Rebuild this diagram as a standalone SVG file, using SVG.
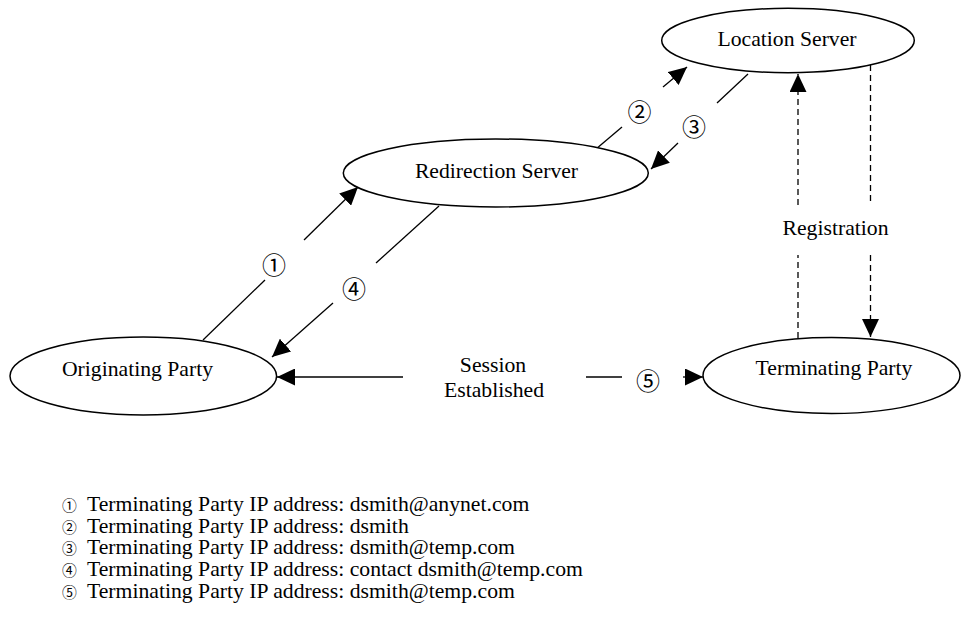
<svg xmlns="http://www.w3.org/2000/svg" width="961" height="618" viewBox="0 0 961 618">
<defs>
<style>
.node ellipse{fill:#fff;stroke:#000;stroke-width:1.5}
.t{font-family:"Liberation Serif","Times New Roman",serif;font-size:21.7px;fill:#000}
.c{text-anchor:middle}
.n{font-family:"Noto Sans CJK JP","DejaVu Sans",sans-serif;font-size:24px;fill:#000;text-anchor:middle}
.nl{font-family:"Noto Sans CJK JP","DejaVu Sans",sans-serif;font-size:14.8px}
.edges line{stroke:#000;stroke-width:1.3;fill:none}
.edges line.d{stroke-dasharray:6 4}
</style>
<marker id="ah" markerUnits="userSpaceOnUse" viewBox="0 0 18 17" markerWidth="18" markerHeight="17" refX="18" refY="8.5" orient="auto">
<path d="M0,0 L18,8.5 L0,17 z" fill="#000"/>
</marker>
</defs>
<rect width="961" height="618" fill="#fff"/>

<g class="edges" id="connectors">
<!-- 1: Originating -> Redirection -->
<line x1="203" y1="340" x2="265" y2="280"/>
<line x1="304" y1="240" x2="358" y2="187" marker-end="url(#ah)"/>
<!-- 4: Redirection -> Originating -->
<line x1="439" y1="206" x2="376" y2="263"/>
<line x1="333" y1="303" x2="272" y2="357" marker-end="url(#ah)"/>
<!-- 2: Redirection -> Location -->
<line x1="596" y1="149" x2="622" y2="127"/>
<line x1="663" y1="87" x2="687" y2="67" marker-end="url(#ah)"/>
<!-- 3: Location -> Redirection -->
<line x1="748" y1="74" x2="717" y2="103"/>
<line x1="678" y1="143" x2="651" y2="169" marker-end="url(#ah)"/>
<!-- Registration up -->
<line class="d" x1="798" y1="338" x2="798" y2="255"/>
<line class="d" x1="798" y1="205" x2="798" y2="74" marker-end="url(#ah)"/>
<!-- Registration down -->
<line class="d" x1="870.5" y1="65" x2="870.5" y2="205"/>
<line class="d" x1="870.5" y1="255" x2="870.5" y2="337" marker-end="url(#ah)"/>
<!-- Session established -->
<line x1="403" y1="377" x2="277" y2="377" marker-end="url(#ah)"/>
<line x1="586" y1="377" x2="622" y2="377"/>
<line x1="683" y1="377" x2="703" y2="377" marker-end="url(#ah)"/>
<!-- labels -->
<text class="n" x="274" y="273.5">①</text>
<text class="n" x="354" y="297.5">④</text>
<text class="n" x="639.5" y="121">②</text>
<text class="n" x="694" y="135.5">③</text>
<text class="n" x="648" y="390">⑤</text>
<text class="t c" x="835.5" y="235">Registration</text>
<text class="t c" x="493" y="372">Session</text>
<text class="t c" x="494" y="397">Established</text>
</g>

<g class="node" id="location-server">
<ellipse cx="788" cy="40.5" rx="126.3" ry="32.2"/>
<text class="t c" x="787" y="46">Location Server</text>
</g>
<g class="node" id="redirection-server">
<ellipse cx="495.8" cy="173" rx="152.5" ry="34"/>
<text class="t c" x="496.5" y="178">Redirection Server</text>
</g>
<g class="node" id="originating-party">
<ellipse cx="143.3" cy="376" rx="133.3" ry="39"/>
<text class="t c" x="137.5" y="376">Originating Party</text>
</g>
<g class="node" id="terminating-party">
<ellipse cx="831.5" cy="375.5" rx="128.5" ry="38"/>
<text class="t c" x="834" y="375">Terminating Party</text>
</g>

<g id="legend">
<text class="t" y="511"><tspan class="nl" x="62">①</tspan><tspan x="87">Terminating Party IP address: dsmith@anynet.com</tspan></text>
<text class="t" y="532.7"><tspan class="nl" x="62">②</tspan><tspan x="87">Terminating Party IP address: dsmith</tspan></text>
<text class="t" y="554.4"><tspan class="nl" x="62">③</tspan><tspan x="87">Terminating Party IP address: dsmith@temp.com</tspan></text>
<text class="t" y="576.1"><tspan class="nl" x="62">④</tspan><tspan x="87">Terminating Party IP address: contact dsmith@temp.com</tspan></text>
<text class="t" y="597.8"><tspan class="nl" x="62">⑤</tspan><tspan x="87">Terminating Party IP address: dsmith@temp.com</tspan></text>
</g>
</svg>
